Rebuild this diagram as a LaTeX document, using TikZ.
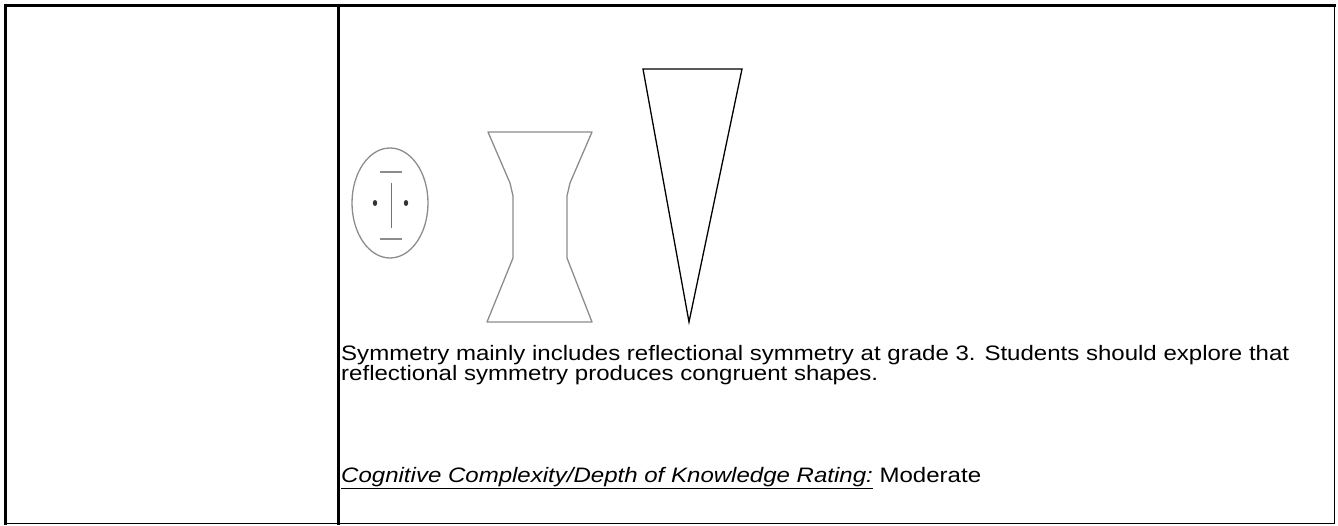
\documentclass[tikz,border=0pt]{standalone}
\usepackage{fontspec}
\setmainfont{Liberation Sans}
\newcommand{\stretchtxt}[1]{\scalebox{1.15}[1]{#1}}
\begin{document}
\begin{tikzpicture}[x=1pt,y=-1pt,
  txt/.style={anchor=base west,inner sep=0pt,font=\fontsize{20.9}{24}\selectfont},
  grayline/.style={draw=black!45,line width=1.3pt},
  thick border/.style={line width=3pt},
  thin border/.style={line width=1.2pt}]
\useasboundingbox (0,0) rectangle (1338,526);
% table borders
\draw[thin border] (5,523.5) -- (1334.5,523.5) -- (1334.5,5);
\draw[thick border] (4,5.5) -- (1336,5.5);
\draw[thick border] (5.5,4) -- (5.5,525);
\draw[thick border] (338.5,4) -- (338.5,525);
% face
\draw[grayline] (390,203) ellipse [x radius=38,y radius=55];
\draw[grayline] (380,172) -- (402,172);
\draw[grayline] (380,239) -- (402,239);
\draw[draw=black!55,line width=1pt] (391,183) -- (391,228);
\fill[black!80] (375,203) ellipse [x radius=2.2,y radius=3];
\fill[black!80] (406,203) ellipse [x radius=2.2,y radius=3];
% hourglass
\draw[grayline,line join=round] (488,132) -- (510,183) -- (513,196) -- (513,258) -- (487,322) -- (592,322) -- (567,258) -- (567,196) -- (570,183) -- (592,132) -- cycle;
% triangle
\draw[line width=1.3pt,line join=miter] (643,69) -- (742,69) -- (689,322) -- cycle;
% text
\node[txt] (l1) at (341,360) {\stretchtxt{Symmetry mainly includes reflectional symmetry at grade 3. Students should explore that}};
\node[txt] (l2) at (341,381) {\stretchtxt{reflectional symmetry produces congruent shapes.}};
\node[txt] (l3) at (341,482) {\stretchtxt{\underline{\itshape Cognitive Complexity/Depth of Knowledge Rating:} Moderate}};
\end{tikzpicture}
\end{document}
